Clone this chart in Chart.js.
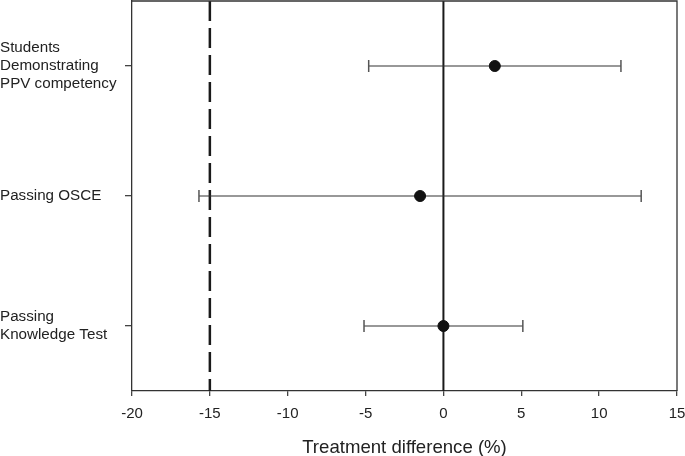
<!DOCTYPE html>
<html>
<head>
<meta charset="utf-8">
<script src="https://cdn.jsdelivr.net/npm/chart.js@4"></script>
<style>
  html, body { margin: 0; padding: 0; background: #fff; }
  #wrap { width: 685px; height: 456px; }
</style>
</head>
<body>
<div id="wrap"><canvas id="c" width="685" height="456"></canvas></div>
<script>
// ---- data ----
const categories = [
  ["Students", "Demonstrating", "PPV competency"],
  ["Passing OSCE"],
  ["Passing", "Knowledge Test"]
];
const estimates = [3.3, -1.5, 0.0];
const lowerCI   = [-4.8, -15.7, -5.1];
const upperCI   = [11.4, 12.7, 5.1];
const xTicks    = [-20, -15, -10, -5, 0, 5, 10, 15];
const noEffect  = 0;
const margin    = -15;

const rowPos = categories.map((c, i) => i + 0.5);
const yMax = categories.length;

const datasets = [];
// reference lines
datasets.push({
  type: 'line',
  data: [{x: margin, y: 0}, {x: margin, y: yMax}],
  borderColor: '#1a1a1a', borderWidth: 2.5, borderDash: [20, 7],
  pointRadius: 0, order: 5
});
datasets.push({
  type: 'line',
  data: [{x: noEffect, y: 0}, {x: noEffect, y: yMax}],
  borderColor: '#1a1a1a', borderWidth: 2,
  pointRadius: 0, order: 5
});
// error bars
categories.forEach((c, i) => {
  datasets.push({
    type: 'line',
    data: [{x: lowerCI[i], y: rowPos[i]}, {x: upperCI[i], y: rowPos[i]}],
    borderColor: '#333', borderWidth: 1.2,
    pointStyle: 'line', pointRotation: 90, pointRadius: 6,
    pointBorderColor: '#555', pointBorderWidth: 1.5,
    order: 3
  });
});
// point estimates
datasets.push({
  type: 'scatter',
  data: estimates.map((v, i) => ({x: v, y: rowPos[i]})),
  backgroundColor: '#111', borderColor: '#111',
  pointRadius: 5.5, order: 1
});

const framePlugin = {
  id: 'frame',
  afterDraw(chart) {
    const {ctx, chartArea: a} = chart;
    ctx.save();
    ctx.strokeStyle = '#333';
    ctx.lineWidth = 1.3;
    ctx.beginPath();
    ctx.moveTo(a.left, a.top);
    ctx.lineTo(a.right, a.top);
    ctx.lineTo(a.right, a.bottom);
    ctx.stroke();
    ctx.restore();
  }
};

const FONT = 'Liberation Sans, Arial, sans-serif';

new Chart(document.getElementById('c'), {
  type: 'scatter',
  data: { datasets },
  plugins: [framePlugin],
  options: {
    responsive: false,
    animation: false,
    devicePixelRatio: 1,
    layout: { autoPadding: false, padding: { left: 0, right: 8, top: 1, bottom: 0 } },
    plugins: { legend: { display: false }, tooltip: { enabled: false } },
    scales: {
      x: {
        type: 'linear',
        min: xTicks[0], max: xTicks[xTicks.length - 1],
        afterBuildTicks: s => { s.ticks = xTicks.map(v => ({value: v})); },
        afterFit: s => { s.height = 65; s.paddingLeft = 0; s.paddingRight = 0; },
        grid: { drawOnChartArea: false, drawTicks: true, tickLength: 5, color: '#444', lineWidth: 1.3 },
        border: { display: true, color: '#333', width: 1.3 },
        ticks: { color: '#222', font: { family: FONT, size: 15 }, padding: 9,
                 callback: v => String(v) },
        title: { display: true, text: 'Treatment difference (%)', color: '#222',
                 font: { family: FONT, size: 18.6, lineHeight: 0.85 },
                 padding: { top: 0, bottom: 0 } }
      },
      y: {
        type: 'linear',
        min: 0, max: yMax, reverse: true,
        afterBuildTicks: s => { s.ticks = rowPos.map(v => ({value: v})); },
        afterFit: s => { s.width = 132; s.paddingTop = 0; s.paddingBottom = 0; },
        grid: { drawOnChartArea: false, drawTicks: true, tickLength: 7, color: '#444', lineWidth: 1.3 },
        border: { display: true, color: '#333', width: 1.3 },
        ticks: {
          color: '#222', crossAlign: 'far',
          font: { family: FONT, size: 15.2, lineHeight: 1.17 },
          callback: (v) => { const i = rowPos.indexOf(v); return i >= 0 ? categories[i] : ''; }
        }
      }
    }
  }
});
</script>
</body>
</html>
